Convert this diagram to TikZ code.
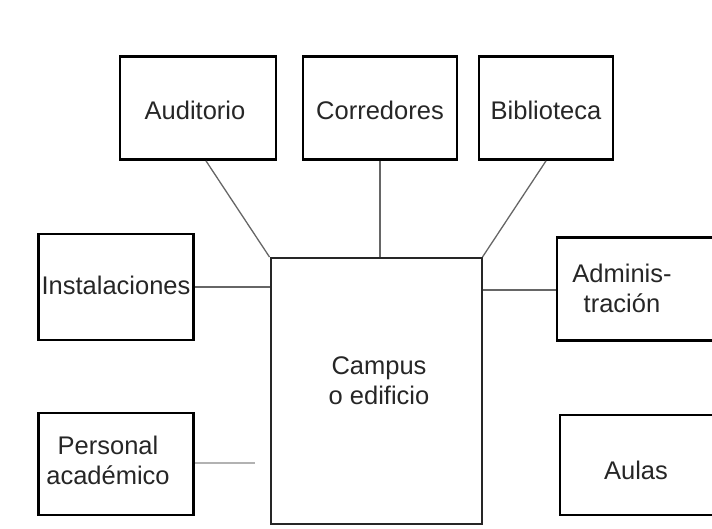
\documentclass[tikz,border=0pt]{standalone}
\usepackage{fontspec}
\setmainfont{Liberation Sans}
\begin{document}
\begin{tikzpicture}[x=1pt,y=-1pt,
  box/.style={draw=black,line width=2.8pt,inner sep=0pt},
  bigbox/.style={draw=black!85,line width=2pt,inner sep=0pt},
  lbl/.style={font=\fontsize{25.5}{30}\selectfont,text=black!85,align=center,inner sep=0pt},
  conn/.style={draw=black!60,line width=1.3pt},
  faint/.style={draw=black!30,line width=1.2pt}]
\useasboundingbox (0,0) rectangle (712,529);
% boxes
\node[box,minimum width=156pt,minimum height=103pt] (aud) at (198,108) {};
\node[box,minimum width=154pt,minimum height=103pt] (cor) at (380,108) {};
\node[box,minimum width=134pt,minimum height=103pt] (bib) at (546,108) {};
\node[box,minimum width=155pt,minimum height=106pt] (ins) at (116,287) {};
\node[box,minimum width=160pt,minimum height=103pt] (adm) at (637,289) {};
\node[box,minimum width=155pt,minimum height=102pt] (per) at (116,464) {};
\node[box,minimum width=156pt,minimum height=100pt] (aul) at (638,465) {};
\node[bigbox,minimum width=211pt,minimum height=266pt] (cam) at (376,391) {};
% labels
\node[lbl] (taud) at (195,110) {Auditorio};
\node[lbl] (tcor) at (380,110) {Corredores};
\node[lbl] (tbib) at (546,110) {Biblioteca};
\node[lbl] (tins) at (116,285) {Instalaciones};
\node[lbl] (tadm) at (622,288) {Adminis-\\tración};
\node[lbl] (tcam) at (379,381) {Campus\\o edificio};
\node[lbl] (tper) at (108,460) {Personal\\académico};
\node[lbl] (taul) at (636,470) {Aulas};
% connectors
\draw[conn] (aud.south) ++(8,0) coordinate (a1) -- (cam.north west);
\draw[conn] (cor.south) -- (cam.north -| cor.south);
\draw[conn] (bib.south) -- (cam.north east);
\draw[conn] (ins.east |- 0,287) -- (cam.west |- 0,287);
\draw[conn] (cam.east |- 0,290) -- (adm.west |- 0,290);
\coordinate (pend) at (255,463);
\draw[faint] (per.east |- pend) -- (pend);
\end{tikzpicture}
\end{document}
